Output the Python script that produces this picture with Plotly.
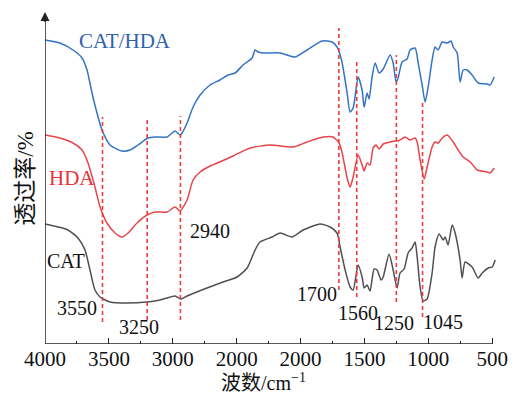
import plotly.graph_objects as go

# ---------------- data ----------------
cat_hda_wn = [4000, 3883, 3781, 3710, 3671, 3632, 3593, 3554, 3491, 3397, 3334, 3272, 3194, 3139, 3045,
              2982, 2943, 2927, 2888, 2841, 2786, 2708, 2630, 2567, 2512, 2450, 2379, 2356, 2332, 2293,
              2160, 2042, 1949, 1831, 1753, 1714, 1690, 1674, 1635, 1612, 1588, 1549, 1518, 1502, 1479,
              1463, 1440, 1416, 1385, 1353, 1299, 1275, 1252, 1236, 1205, 1166, 1142, 1103, 1079, 1048,
              1025, 1001, 970, 947, 923, 891, 852, 821, 805, 774, 751, 727, 696, 657, 610, 539, 516, 484]
cat_hda_t = [304, 301, 294, 286, 274, 251, 231, 214, 199, 193, 194, 199, 206, 207, 207,
             213, 209, 211, 221, 237, 249, 259, 264, 269, 271, 279, 286, 294, 292, 291,
             291, 287, 294, 303, 302, 297, 289, 281, 251, 232, 236, 267, 254, 237, 251,
             245, 267, 281, 271, 275, 289, 281, 262, 266, 282, 285, 294, 296, 281, 259,
             242, 257, 284, 297, 294, 302, 301, 303, 297, 291, 262, 274, 274, 269, 261, 260, 259, 267]

hda_wn = [4000, 3883, 3781, 3710, 3663, 3609, 3569, 3515, 3452, 3397, 3350, 3280, 3201, 3139, 3045,
          2982, 2943, 2888, 2841, 2786, 2708, 2614, 2528, 2395, 2238, 2058, 1949, 1823, 1745, 1698,
          1674, 1635, 1612, 1588, 1549, 1518, 1502, 1479, 1456, 1432, 1409, 1385, 1353, 1299, 1260,
          1236, 1181, 1142, 1103, 1087, 1064, 1032, 1009, 970, 947, 923, 891, 852, 805, 766, 727,
          672, 617, 539, 516, 484]
hda_t = [209, 206, 201, 194, 181, 157, 137, 121, 111, 107, 111, 121, 129, 132, 132,
         137, 133, 144, 164, 172, 178, 183, 188, 196, 199, 197, 202, 207, 207, 201,
         191, 166, 157, 167, 189, 179, 173, 181, 179, 196, 199, 195, 200, 202, 203,
         203, 207, 204, 206, 202, 184, 165, 177, 197, 202, 201, 206, 209, 202, 194, 187,
         182, 174, 172, 171, 176]

cat_wn = [4000, 3898, 3820, 3742, 3687, 3648, 3609, 3569, 3491, 3358, 3201, 3100, 2982, 2935, 2888,
          2732, 2606, 2497, 2418, 2356, 2317, 2223, 2160, 2066, 1980, 1847, 1768, 1714, 1690, 1651,
          1612, 1588, 1549, 1518, 1502, 1479, 1456, 1424, 1401, 1369, 1353, 1307, 1275, 1244, 1221,
          1189, 1158, 1127, 1103, 1087, 1064, 1040, 1009, 970, 947, 915, 884, 868, 845, 813, 790,
          751, 735, 712, 657, 610, 578, 531, 500, 476]
cat_t = [120, 117, 114, 106, 94, 74, 54, 47, 42, 41, 42, 44, 48, 45, 48,
         56, 62, 67, 76, 94, 102, 107, 111, 107, 114, 120, 117, 111, 97, 74,
         57, 54, 79, 67, 56, 59, 53, 75, 74, 64, 67, 90, 74, 56, 71,
         75, 91, 96, 102, 87, 57, 43, 45, 71, 97, 110, 104, 107, 99, 119, 111,
         84, 66, 82, 77, 66, 71, 76, 77, 84]

series_names = ["CAT/HDA", "HDA", "CAT"]

# marked bands: line position, printed label
peak_lines = [3550, 3200, 2940, 1700, 1560, 1250, 1045]
peak_labels = ["3550", "3250", "2940", "1700", "1560", "1250", "1045"]
peak_line_top = [227, 225, 228, 316, 284, 289, 242]
peak_line_bottom = [22, 24, 24, 54, 47, 42, 27]

tick_vals = [4000, 3500, 3000, 2500, 2000, 1500, 1000, 500]
tick_text = ["4000", "3500", "3000", "2000", "2000", "1500", "1000", "500"]

# ---------------- figure ----------------
SERIF = "Liberation Serif, Times New Roman, Noto Sans CJK SC, serif"
BLUE = "#3474c4"
RED = "#e8444a"
GREY = "#505050"

fig = go.Figure()
for wn, t, name, col in [(cat_hda_wn, cat_hda_t, series_names[0], BLUE),
                         (hda_wn, hda_t, series_names[1], RED),
                         (cat_wn, cat_t, series_names[2], GREY)]:
    fig.add_trace(go.Scatter(x=wn, y=t, mode="lines", name=name,
                             line=dict(color=col, width=1.5, shape="spline", smoothing=0.6)))

shapes = []
for pos, top, bot in zip(peak_lines, peak_line_top, peak_line_bottom):
    shapes.append(dict(type="line", xref="x", yref="y", x0=pos, x1=pos, y0=bot, y1=top,
                       line=dict(color="#f03a3a", width=1.6, dash="4px,3px")))
# x-axis line from 4000 to 500
shapes.append(dict(type="line", xref="x", yref="y", x0=4000, x1=500, y0=0, y1=0,
                   line=dict(color="#222222", width=1.5)))
# y-axis line
shapes.append(dict(type="line", xref="x", yref="paper", x0=4000, x1=4000, y0=0, y1=0.985,
                   line=dict(color="#222222", width=1.5)))
fig.update_layout(shapes=shapes)

annotations = [
    dict(x=3374, y=303, text="CAT/HDA", font=dict(color="#2e62ad", size=21)),
    dict(x=3789, y=166, text="HDA", font=dict(color="#e8343a", size=21)),
    dict(x=3836, y=83, text="CAT", font=dict(color="#111111", size=20)),
]
label_xy = {"3550": (3749, 36), "3250": (3264, 17), "2940": (2708, 113), "1700": (1870, 50),
            "1560": (1549, 31), "1250": (1267, 21), "1045": (884, 22)}
for lab in peak_labels:
    lx, ly = label_xy[lab]
    annotations.append(dict(x=lx, y=ly, text=lab, font=dict(color="#111111", size=20)))
for a in annotations:
    a.update(xref="x", yref="y", showarrow=False)
    a["font"]["family"] = SERIF

# y-axis arrow head
annotations.append(dict(x=4000, y=1, xref="x", yref="paper", ax=0, ay=12, axref="pixel", ayref="pixel",
                        text=" ", showarrow=True, arrowhead=2, arrowsize=1.2, arrowwidth=1.5,
                        arrowcolor="#222222", font=dict(size=1)))
# axis titles
annotations.append(dict(x=-0.045, y=0.50, xref="paper", yref="paper", showarrow=False,
                        xanchor="center", yanchor="middle",
                        text="透过率/%", textangle=-90, font=dict(family=SERIF, size=23, color="#111111")))
annotations.append(dict(x=0.485, y=-0.115, xref="paper", yref="paper", showarrow=False,
                        text="波数/cm<sup>−1</sup>", font=dict(family=SERIF, size=20, color="#111111"),
                        xanchor="center", yanchor="middle"))

fig.update_layout(
    width=525, height=395,
    margin=dict(l=45, r=29, t=12, b=51),
    paper_bgcolor="white", plot_bgcolor="white",
    showlegend=False,
    annotations=annotations,
    xaxis=dict(range=[4000, 470], tickvals=tick_vals, ticktext=tick_text,
               ticks="inside", ticklen=6, tickwidth=1.3, tickcolor="#222222",
               minor=dict(dtick=250, tick0=500, ticks="inside", ticklen=3, tickwidth=1.2, tickcolor="#222222"),
               showline=False, showgrid=False, zeroline=False,
               tickfont=dict(family=SERIF, size=21, color="#111111")),
    yaxis=dict(range=[0, 332], showticklabels=False, showgrid=False, zeroline=False,
               showline=False, ticks=""),
)

fig.write_html("out.html")
